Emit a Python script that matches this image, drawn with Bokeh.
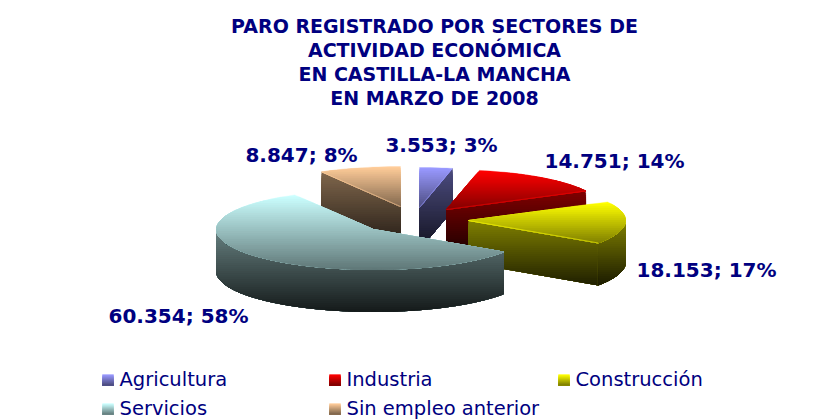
import math
from bokeh.plotting import figure
from bokeh.embed import file_html
from bokeh.resources import INLINE
from bokeh.core.properties import value

categories = ["Agricultura", "Industria", "Construcción", "Servicios", "Sin empleo anterior"]
values = [3553, 14751, 18153, 60354, 8847]
labels = ["3.553; 3%", "14.751; 14%", "18.153; 17%", "60.354; 58%", "8.847; 8%"]
title_lines = ["PARO REGISTRADO POR SECTORES DE", "ACTIVIDAD ECONÓMICA", "EN CASTILLA-LA MANCHA", "EN MARZO DE 2008"]
top_colors = [(153, 153, 255), (255, 0, 0), (255, 255, 0), (204, 255, 255), (255, 204, 153)]

centers = [(419, 207), (446, 209), (468, 220), (373, 229), (400, 206)]
RX, RY, DEPTH = 157, 40, 42
NAVY = "#000080"
LABEL_FONT = "DejaVu Sans"
LEGEND_FONT = "DejaVu Sans"

p = figure(width=814, height=420, x_range=(0, 814), y_range=(420, 0),
           output_backend="svg", toolbar_location=None, min_border=0)
p.axis.visible = False
p.grid.visible = False
p.outline_line_color = None
p.background_fill_color = "white"


def clip_below(poly, y0):
    out = []
    for i in range(len(poly)):
        a, b = poly[i], poly[(i + 1) % len(poly)]
        ina, inb = a[1] >= y0, b[1] >= y0
        if ina:
            out.append(a)
        if ina != inb:
            t = (y0 - a[1]) / (b[1] - a[1])
            out.append((a[0] + t * (b[0] - a[0]), y0))
    return out


def mix(c, f):
    return "#%02x%02x%02x" % tuple(max(0, min(255, round(v * f))) for v in c)


def gradient(poly, color, f0, f1, y0=None, y1=None, step=2):
    ys = [q[1] for q in poly]
    lo = min(ys) if y0 is None else y0
    hi = max(ys) if y1 is None else y1
    xs_all, ys_all, cols = [], [], []
    y = min(ys)
    while y < max(ys):
        t = max(0, min(1, (y - lo) / max(1e-6, hi - lo)))
        clipped = clip_below(poly, y)
        if len(clipped) >= 3:
            xs_all.append([q[0] for q in clipped])
            ys_all.append([q[1] for q in clipped])
            cols.append(mix(color, f0 + (f1 - f0) * t))
        y += step
    p.patches(xs_all, ys_all, fill_color=cols, line_color=cols, line_width=0.3)


total = sum(values)
angles = [0.0]
for v in values:
    angles.append(angles[-1] + 360.0 * v / total)


def rim(i, a):
    r = math.radians(a)
    cx, cy = centers[i]
    return cx + RX * math.sin(r), cy - RY * math.cos(r)


def arc(i, a0, a1):
    n = max(2, int((a1 - a0) / 2))
    return [rim(i, a0 + (a1 - a0) * k / n) for k in range(n + 1)]


def draw_slice(i):
    a0, a1 = angles[i], angles[i + 1]
    c = top_colors[i]
    cx, cy = centers[i]
    top = [(cx, cy)] + arc(i, a0, a1)
    ytop = min(q[1] for q in top)
    ybot = max(q[1] for q in top)
    for a in (a0, a1):
        front = (a == a1 and a < 180) or (a == a0 and 180 < a < 360)
        if front:
            e = rim(i, a)
            wall = [(cx, cy), e, (e[0], e[1] + DEPTH), (cx, cy + DEPTH)]
            gradient(wall, c, 0.5, 0.12)
    lo, hi = max(a0, 90), min(a1, 270)
    if lo < hi:
        up = arc(i, lo, hi)
        poly = up + [(x, y + DEPTH) for x, y in reversed(up)]
        gradient(poly, c, 0.5, 0.1)
    gradient(top, c, 1.0, 0.42, ytop, ybot + 6)
    for a in (a0, a1):
        if (a == a1 and a < 180) or (a == a0 and 180 < a < 360):
            e = rim(i, a)
            p.line([cx, e[0]], [cy, e[1]], line_color=mix(c, 1.0), line_alpha=0.55, line_width=1)


for i in (4, 0, 1, 2, 3):
    draw_slice(i)

# title
p.text([434] * 4, [25, 49, 73, 97], text=title_lines, text_align="center", text_baseline="middle",
       text_color=NAVY, text_font=value(LABEL_FONT), text_font_style="bold", text_font_size="19px")

# data labels
lx = [441, 614, 706, 178, 301]
ly = [144, 160, 269, 315, 154]
p.text(lx, ly, text=labels, text_align="center", text_baseline="middle", text_color=NAVY,
       text_font=value(LABEL_FONT), text_font_style="bold", text_font_size="20px")

# legend
sx = [102, 329, 558, 102, 329]
sy = [374, 374, 374, 403, 403]
for i in range(5):
    sq = [(sx[i], sy[i]), (sx[i] + 11, sy[i]), (sx[i] + 11, sy[i] + 11), (sx[i], sy[i] + 11)]
    gradient(sq, top_colors[i], 1.0, 0.45, step=1)
p.text([q + 17 for q in sx], [q + 5 for q in sy], text=categories, text_align="left", text_baseline="middle",
       text_color=NAVY, text_font=value(LEGEND_FONT), text_font_size="19.5px")

open("out.html", "w").write(file_html(p, INLINE))
